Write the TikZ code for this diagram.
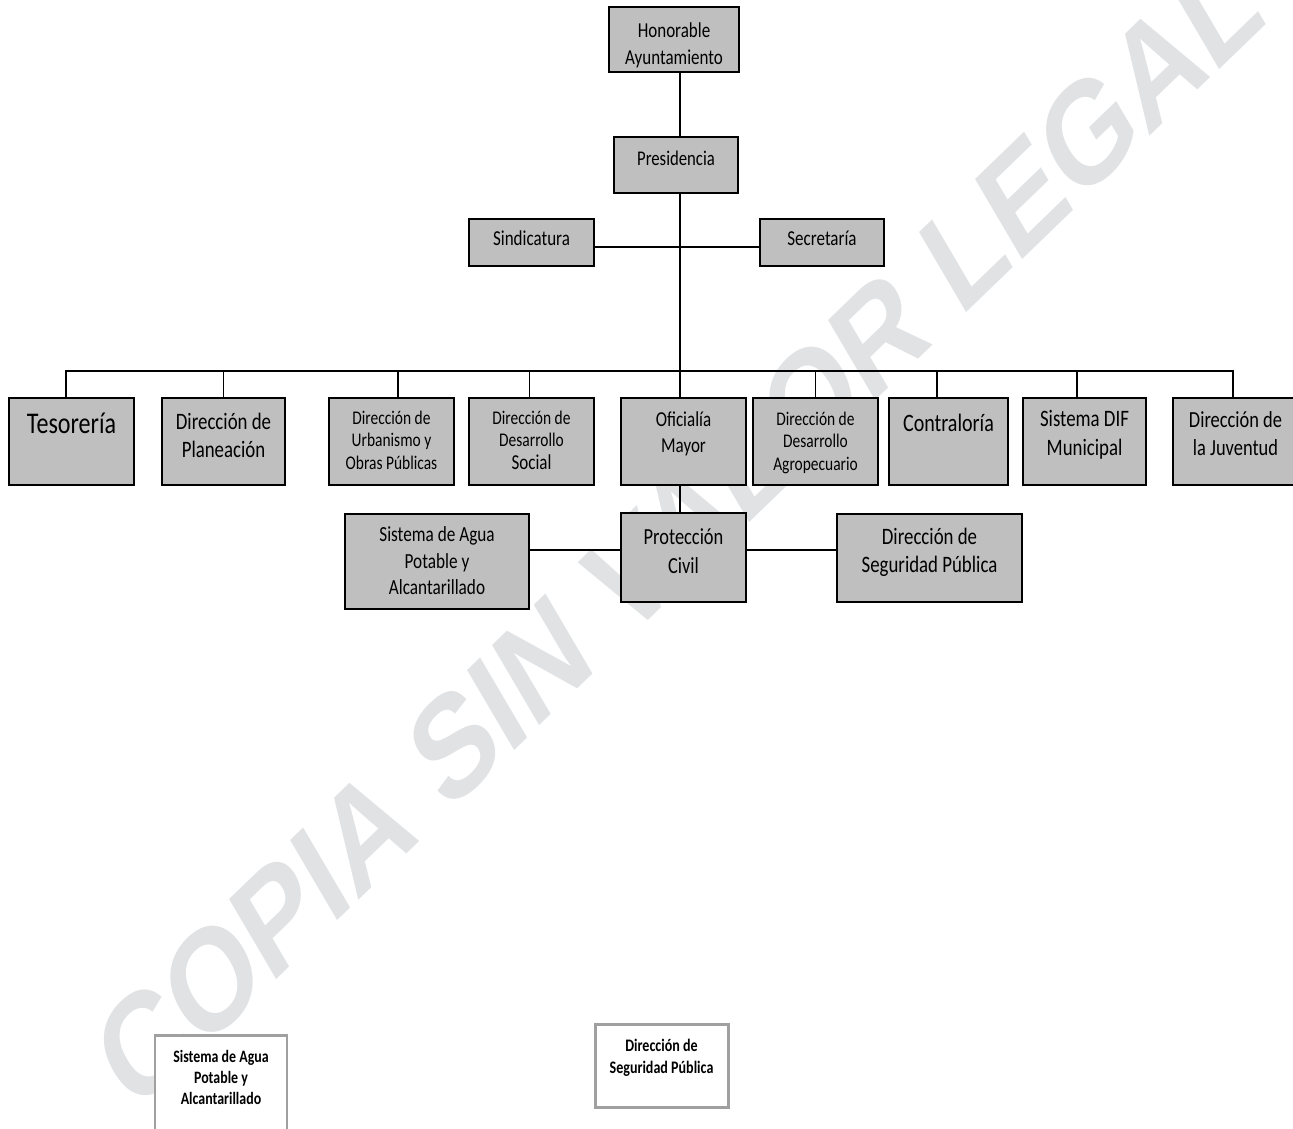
\documentclass[tikz,border=0pt]{standalone}
\usepackage{fontspec}
\setmainfont{Carlito}[FakeStretch=0.8]
\newfontfamily\marcafont{Liberation Sans}
\usepackage{tikz}

\newcommand{\tam}[2]{\fontsize{#1}{#2}\selectfont}
\definecolor{marcagris}{RGB}{225,226,228}
\definecolor{bordegris}{RGB}{160,160,160}

\tikzset{
  caja/.style 2 args={draw=black, line width=0.7pt, fill=gray!50, inner sep=0pt,
    minimum width=#1*0.02cm, minimum height=#2*0.02cm},
  cajablanca/.style 2 args={draw=bordegris, line width=1.7pt, fill=white, inner sep=0pt,
    minimum width=#1*0.02cm, minimum height=#2*0.02cm},
  texto/.style={anchor=north, align=center, inner sep=0pt},
  linea/.style={line width=0.6pt},
}

\begin{document}
\begin{tikzpicture}[x=0.02cm,y=-0.02cm]
\useasboundingbox (0,0) rectangle (1293,1128);
\clip (0,0) rectangle (1293,1128);

% marca de agua
\node[xscale=0.78, rotate=37, text=marcagris, inner sep=0pt] (marca) at (678,529)
  {\marcafont\bfseries\tam{83}{83}COPIA SIN VALOR LEGAL};

% cajas
\node[caja={130}{65}] (hon) at (674,39.5) {};
\node[caja={124}{56}] (pres) at (676,165) {};
\node[caja={125}{47}] (sind) at (531.5,242.5) {};
\node[caja={124}{47}] (sec) at (822,242.5) {};

\node[caja={125}{87}] (tes) at (71.5,441.5) {};
\node[caja={123}{87}] (pla) at (223.5,441.5) {};
\node[caja={125}{87}] (urb) at (391.5,441.5) {};
\node[caja={125}{87}] (soc) at (531.5,441.5) {};
\node[caja={125}{87}] (ofi) at (683.5,441.5) {};
\node[caja={125}{87}] (agr) at (815.5,441.5) {};
\node[caja={119}{87}] (con) at (948.5,441.5) {};
\node[caja={123}{87}] (dif) at (1084.5,441.5) {};
\node[caja={125}{87}] (juv) at (1235.5,441.5) {};

\node[caja={184}{95}] (agua) at (437,561.5) {};
\node[caja={125}{89}] (pro) at (683.5,557.5) {};
\node[caja={185}{88}] (seg) at (929.5,558) {};

\node[cajablanca={132}{105}] (aguab) at (221,1087.5) {};
\node[cajablanca={133}{83}] (segb) at (661.5,1065.5) {};

% lineas
\coordinate (bus) at (680,371);
\draw[linea] (hon.south -| bus) -- (pres.north -| bus);
\draw[linea] (pres.south -| bus) -- (ofi.north -| bus);
\draw[linea] (ofi.south -| bus) -- (pro.north -| bus);
\draw[linea] ([yshift=-0.09cm]sind.east) -- ([yshift=-0.09cm]sec.west);
\foreach \n/\dx in {tes/-5.5,pla/0,urb/6.5,soc/-2,agr/0,con/-11.5,dif/-7.5,juv/-2.5} {
\draw[linea] ([xshift=\dx*0.02cm]\n.north) |- (bus);
}
\draw[linea] ([yshift=0.15cm]pro.west) -- ([yshift=0.15cm]pro.west -| agua.east);
\draw[linea] ([yshift=0.15cm]pro.east) -- ([yshift=0.15cm]pro.east -| seg.west);

% textos
\node[texto, font=\tam{12.1}{15.3}] at ([yshift=-0.32cm]hon.north) {Honorable\\Ayuntamiento};
\node[texto, font=\tam{11.9}{15}] at ([yshift=-0.28cm]pres.north) {Presidencia};
\node[texto, font=\tam{12.1}{15}] at ([yshift=-0.24cm]sind.north) {Sindicatura};
\node[texto, font=\tam{12.1}{15}] at ([yshift=-0.24cm]sec.north) {Secretaría};

\node[texto, font=\tam{17.1}{20}] at ([yshift=-0.31cm]tes.north) {Tesorería};
\node[texto, font=\tam{13.4}{16}] at ([yshift=-0.30cm]pla.north) {Dirección de\\Planeación};
\node[texto, font=\tam{11}{12.8}] at ([yshift=-0.26cm]urb.north) {Dirección de\\Urbanismo y\\Obras Públicas};
\node[texto, font=\tam{11}{12.8}] at ([yshift=-0.26cm]soc.north) {Dirección de\\Desarrollo\\\tam{12.1}{13.8}Social};
\node[texto, font=\tam{12.1}{14.7}] at ([yshift=-0.28cm]ofi.north) {Oficialía\\Mayor};
\node[texto, font=\tam{11}{12.8}] at ([yshift=-0.28cm]agr.north) {Dirección de\\Desarrollo\\Agropecuario};
\node[texto, font=\tam{14.25}{16}] at ([yshift=-0.32cm]con.north) {Contraloría};
\node[texto, font=\tam{13.4}{16}] at ([yshift=-0.26cm]dif.north) {Sistema DIF\\Municipal};
\node[texto, font=\tam{13.1}{16}] at ([yshift=-0.28cm]juv.north) {Dirección de\\la Juventud};

\node[texto, font=\tam{12.25}{15}] at ([yshift=-0.26cm]agua.north) {Sistema de Agua\\Potable y\\Alcantarillado};
\node[texto, font=\tam{13.1}{16.4}] at ([yshift=-0.32cm]pro.north) {Protección\\Civil};
\node[texto, font=\tam{13.4}{16.4}] at ([yshift=-0.28cm]seg.north) {Dirección de\\Seguridad Pública};

\node[texto, font=\bfseries\tam{9.9}{12.2}] at ([yshift=-0.32cm]aguab.north) {Sistema de Agua\\Potable y\\Alcantarillado};
\node[texto, font=\bfseries\tam{10}{12.5}] at ([yshift=-0.32cm]segb.north) {Dirección de\\Seguridad Pública};
\end{tikzpicture}
\end{document}
